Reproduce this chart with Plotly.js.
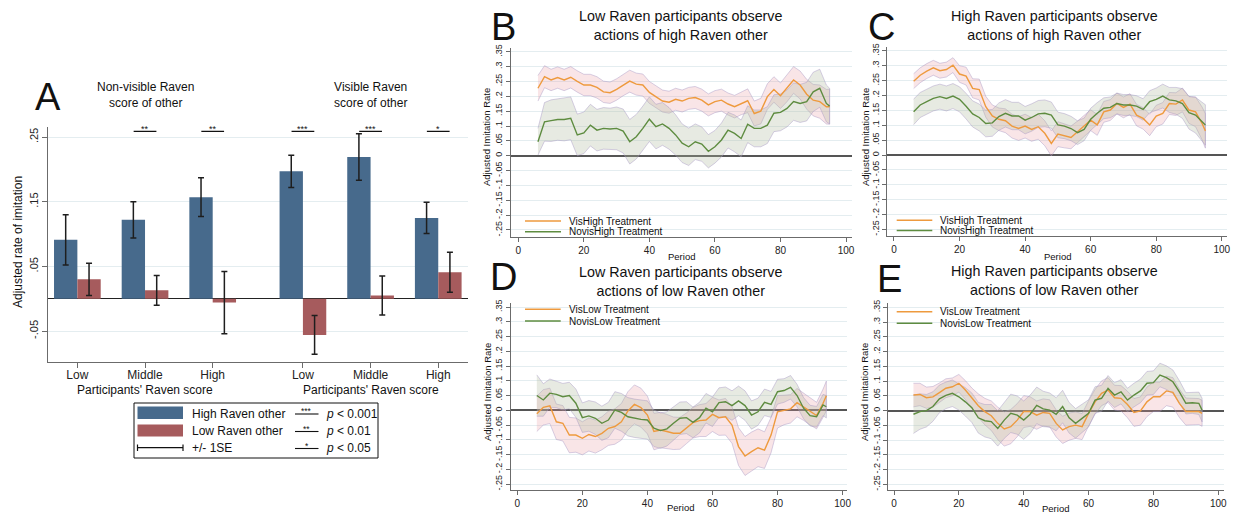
<!DOCTYPE html>
<html><head><meta charset="utf-8">
<script src="https://cdn.plot.ly/plotly-3.0.1.min.js"></script>
<style>html,body{margin:0;padding:0;background:#fff}#chart{width:1241px;height:513px}</style>
</head><body><div id="chart"></div>
<script>
// ---------- Panel A data ----------
const scoreGroups = ["Low","Middle","High","Low","Middle","High"];
const highRavenOther = [0.091,0.122,0.157,0.197,0.219,0.125];
const highRavenSE    = [0.039,0.028,0.030,0.025,0.036,0.024];
const lowRavenOther  = [0.030,0.013,-0.006,-0.056,0.005,0.041];
const lowRavenSE     = [0.025,0.023,0.048,0.030,0.030,0.031];
const sigStars = ["","**","**","***","***","*"];
const groupTitles = ["Non-visible Raven<br>score of other","Visible Raven<br>score of other"];
const groupAxisTitle = "Participants' Raven score";
const barNames = ["High Raven other","Low Raven other","+/- 1SE"];
const sigLegend = [["***","<i>p</i> &lt; 0.001"],["**","<i>p</i> &lt; 0.01"],["*","<i>p</i> &lt; 0.05"]];

// ---------- Panels B-E data ----------
const period = [6,8,10,12,14,16,18,20,22,24,26,28,30,32,34,36,38,40,42,44,46,48,50,52,54,56,58,60,62,64,66,68,70,72,74,76,78,80,82,84,86,88,90,92,94,95];

const B_vis = [0.227,0.266,0.255,0.263,0.255,0.264,0.250,0.238,0.238,0.230, 0.215,0.212,0.223,0.238,0.251,0.241,0.238,0.213,0.199,0.184, 0.180,0.190,0.184,0.193,0.196,0.187,0.171,0.182,0.187,0.174, 0.165,0.176,0.185,0.142,0.150,0.199,0.223,0.202,0.227,0.255, 0.238,0.207,0.187,0.182,0.165,0.165];
const B_vis_ci = [0.043,0.037,0.036,0.036,0.036,0.036,0.036,0.036,0.036,0.036, 0.036,0.036,0.036,0.036,0.037,0.037,0.037,0.037,0.037,0.037, 0.037,0.037,0.037,0.037,0.037,0.037,0.037,0.037,0.037,0.037, 0.038,0.038,0.040,0.042,0.043,0.043,0.043,0.043,0.045,0.045, 0.047,0.050,0.053,0.056,0.058,0.059];
const B_nov = [0.047,0.114,0.118,0.122,0.122,0.126,0.070,0.077,0.103,0.086, 0.092,0.090,0.092,0.083,0.047,0.064,0.092,0.123,0.098,0.107, 0.092,0.070,0.042,0.030,0.047,0.039,0.015,0.030,0.053,0.086, 0.075,0.058,0.106,0.092,0.092,0.103,0.143,0.146,0.159,0.182, 0.176,0.182,0.215,0.227,0.176,0.167];
const B_nov_ci = [0.045,0.065,0.070,0.070,0.072,0.072,0.070,0.070,0.070,0.070, 0.070,0.070,0.072,0.074,0.075,0.075,0.075,0.075,0.075,0.072, 0.070,0.068,0.065,0.063,0.060,0.058,0.056,0.055,0.057,0.060, 0.062,0.062,0.062,0.062,0.062,0.062,0.062,0.062,0.062,0.063, 0.064,0.065,0.066,0.064,0.062,0.060];

const C_vis = [0.248,0.268,0.282,0.293,0.283,0.287,0.302,0.272,0.265,0.224, 0.220,0.162,0.131,0.120,0.115,0.097,0.089,0.097,0.086,0.095, 0.073,0.039,0.070,0.064,0.059,0.078,0.097,0.117,0.101,0.145, 0.151,0.173,0.160,0.171,0.134,0.123,0.101,0.131,0.140,0.173, 0.171,0.185,0.151,0.145,0.106,0.081];
const C_vis_ci = [0.025,0.025,0.025,0.025,0.025,0.025,0.025,0.028,0.030,0.032, 0.035,0.035,0.037,0.038,0.040,0.040,0.040,0.040,0.040,0.042, 0.042,0.042,0.042,0.040,0.038,0.036,0.035,0.035,0.035,0.035, 0.035,0.035,0.035,0.035,0.036,0.036,0.036,0.036,0.036,0.037, 0.038,0.040,0.045,0.050,0.055,0.058];
const C_nov = [0.145,0.168,0.179,0.190,0.196,0.190,0.198,0.187,0.164,0.138, 0.126,0.106,0.108,0.129,0.140,0.131,0.131,0.117,0.126,0.138, 0.140,0.134,0.101,0.097,0.089,0.075,0.086,0.120,0.140,0.157, 0.160,0.173,0.168,0.168,0.164,0.153,0.179,0.187,0.198,0.185, 0.182,0.173,0.142,0.134,0.112,0.101];
const C_nov_ci = [0.043,0.042,0.042,0.042,0.042,0.042,0.042,0.042,0.043,0.044, 0.045,0.045,0.045,0.046,0.046,0.046,0.046,0.046,0.046,0.045, 0.045,0.044,0.043,0.042,0.041,0.040,0.038,0.037,0.036,0.035, 0.035,0.035,0.035,0.035,0.035,0.036,0.037,0.038,0.040,0.042, 0.045,0.050,0.055,0.060,0.065,0.068];

const D_vis = [-0.012,0.010,0.015,-0.039,-0.044,-0.084,-0.084,-0.095,-0.082,-0.089, -0.078,-0.061,-0.055,-0.039,-0.002,0.020,0.009,-0.016,-0.072,-0.067, -0.072,-0.078,-0.078,-0.061,-0.042,-0.035,-0.033,-0.014,-0.025,-0.022, -0.050,-0.123,-0.155,-0.140,-0.127,-0.135,-0.084,-0.005,0.001,0.005, 0.026,0.012,-0.005,-0.018,0.024,0.049];
const D_vis_ci = [0.060,0.060,0.060,0.060,0.060,0.060,0.058,0.056,0.056,0.056, 0.056,0.058,0.060,0.062,0.065,0.066,0.066,0.064,0.062,0.060, 0.058,0.055,0.054,0.052,0.052,0.054,0.056,0.058,0.060,0.062, 0.062,0.064,0.066,0.066,0.064,0.062,0.060,0.055,0.050,0.048, 0.048,0.046,0.045,0.045,0.048,0.050];
const D_nov = [0.050,0.035,0.058,0.054,0.046,0.050,0.024,-0.025,-0.019,-0.027, -0.044,-0.033,0.001,-0.007,-0.022,-0.027,-0.031,-0.033,-0.061,-0.069, -0.063,-0.044,-0.027,-0.025,-0.041,-0.025,0.007,-0.005,0.026,0.029, 0.016,0.032,0.016,-0.016,-0.005,0.027,0.020,0.063,0.067,0.078, 0.050,0.007,-0.018,-0.022,0.018,0.012];
const D_nov_ci = [0.070,0.055,0.048,0.045,0.045,0.045,0.048,0.050,0.052,0.055, 0.058,0.060,0.062,0.064,0.065,0.065,0.065,0.065,0.062,0.060, 0.058,0.056,0.055,0.054,0.052,0.052,0.050,0.050,0.050,0.050, 0.050,0.050,0.050,0.048,0.046,0.045,0.044,0.042,0.040,0.040, 0.038,0.036,0.035,0.035,0.036,0.038];

const E_vis = [0.053,0.055,0.044,0.047,0.061,0.076,0.081,0.093,0.070,0.042, 0.017,-0.003,-0.017,-0.043,-0.062,-0.054,-0.032,-0.003,-0.003,-0.015, -0.006,-0.009,-0.043,-0.065,-0.054,-0.049,-0.054,-0.009,0.030,0.059, 0.070,0.044,0.042,0.021,-0.006,-0.001,0.030,0.047,0.047,0.067, 0.062,0.025,-0.003,-0.003,-0.003,-0.009];
const E_vis_ci = [0.040,0.038,0.036,0.035,0.033,0.032,0.030,0.030,0.032,0.035, 0.040,0.045,0.050,0.055,0.058,0.058,0.056,0.054,0.050,0.048, 0.046,0.046,0.046,0.046,0.046,0.045,0.044,0.043,0.042,0.042, 0.042,0.042,0.043,0.045,0.047,0.048,0.050,0.050,0.050,0.050, 0.050,0.048,0.046,0.045,0.044,0.044];
const E_nov = [-0.012,-0.003,0.000,0.014,0.040,0.052,0.059,0.047,0.030,0.010, -0.024,-0.034,-0.037,-0.060,-0.032,-0.009,-0.015,-0.032,-0.012,0.018, 0.006,0.002,-0.012,0.014,-0.024,-0.043,-0.026,-0.009,0.036,0.042, 0.076,0.053,0.064,0.036,0.053,0.067,0.093,0.095,0.121,0.112, 0.098,0.064,0.025,0.027,0.025,0.002];
const E_nov_ci = [0.065,0.060,0.055,0.050,0.047,0.045,0.045,0.045,0.048,0.050, 0.052,0.055,0.058,0.060,0.062,0.065,0.065,0.065,0.065,0.062, 0.060,0.058,0.056,0.055,0.052,0.050,0.048,0.046,0.045,0.044, 0.043,0.042,0.041,0.040,0.040,0.040,0.040,0.040,0.040,0.040, 0.040,0.038,0.036,0.036,0.038,0.040];

const panelLetters = ["A","B","C","D","E"];
const panelTitles = [
  "Low Raven participants observe<br>actions of high Raven other",
  "High Raven participants observe<br>actions of high Raven other",
  "Low Raven participants observe<br>actions of low Raven other",
  "High Raven participants observe<br>actions of low Raven other"];
const seriesNames = [["VisHigh Treatment","NovisHigh Treatment"],["VisHigh Treatment","NovisHigh Treatment"],
                     ["VisLow Treatment","NovisLow Treatment"],["VisLow Treatment","NovisLow Treatment"]];
const yTickVals = [-0.25,-0.2,-0.15,-0.1,-0.05,0,0.05,0.1,0.15,0.2,0.25,0.3,0.35];
const yTickText = ["-.25","-.2","-.15","-.1","-.05","0",".05",".1",".15",".2",".25",".3",".35"];
const xTickVals = [0,20,40,60,80,100];

// ---------- styles ----------
const FONT = "Liberation Sans, Arial, Helvetica, sans-serif";
const BLUE = "#476a8c", RED = "#a65b5d";
const ORANGE = "#ee9a3e", GREEN = "#5e8c40";
const GRID = "#e4edf0", AXIS = "#6b6b6b";
const W = 1241, H = 513;
const PX = p => p / W, PY = p => 1 - p / H;

// panel A category positions (two groups of three with a gap)
const pos = scoreGroups.map((_, i) => i + 1 + (i >= 3 ? 1/3 : 0));

const traces = [];
traces.push({type:"bar", x:pos, y:highRavenOther, name:barNames[0], marker:{color:BLUE},
  error_y:{type:"data", array:highRavenSE, visible:true, color:"#1e1e1e", thickness:1.5, width:3},
  xaxis:"x", yaxis:"y", showlegend:false, hoverinfo:"y"});
traces.push({type:"bar", x:pos, y:lowRavenOther, name:barNames[1], marker:{color:RED},
  error_y:{type:"data", array:lowRavenSE, visible:true, color:"#1e1e1e", thickness:1.5, width:3},
  xaxis:"x", yaxis:"y", showlegend:false, hoverinfo:"y"});

const panels = [
  {vis:B_vis, visci:B_vis_ci, nov:B_nov, novci:B_nov_ci},
  {vis:C_vis, visci:C_vis_ci, nov:C_nov, novci:C_nov_ci},
  {vis:D_vis, visci:D_vis_ci, nov:D_nov, novci:D_nov_ci},
  {vis:E_vis, visci:E_vis_ci, nov:E_nov, novci:E_nov_ci}];

function bandTrace(k, mean, ci, fill) {
  const up = mean.map((m, i) => m + ci[i]);
  const lo = mean.map((m, i) => m - ci[i]);
  return {type:"scatter", mode:"lines", x: period.concat(period.slice().reverse()),
    y: up.concat(lo.slice().reverse()), fill:"toself", fillcolor: fill,
    line:{color:"rgba(165,150,195,0.55)", width:0.8}, hoverinfo:"skip", showlegend:false,
    xaxis:"x"+k, yaxis:"y"+k};
}
panels.forEach((p, i) => {
  const k = i + 2;
  traces.push(bandTrace(k, p.vis, p.visci, "rgba(232,150,160,0.25)"));
  traces.push(bandTrace(k, p.nov, p.novci, "rgba(175,185,160,0.30)"));
  traces.push({type:"scatter", mode:"lines", x:period, y:p.vis, name:seriesNames[i][0],
    line:{color:ORANGE, width:1.4}, xaxis:"x"+k, yaxis:"y"+k, showlegend:false});
  traces.push({type:"scatter", mode:"lines", x:period, y:p.nov, name:seriesNames[i][1],
    line:{color:GREEN, width:1.4}, xaxis:"x"+k, yaxis:"y"+k, showlegend:false});
});

const layout = {
  width: W, height: H, margin:{l:0,r:0,t:0,b:0}, paper_bgcolor:"#fff", plot_bgcolor:"#fff",
  font:{family:FONT, color:"#222"}, barmode:"group", bargap:0.31, bargroupgap:0, showlegend:false,
  xaxis:{domain:[PX(48), PX(468)], range:[0.566, 6.773], tickmode:"array", tickvals:pos, ticktext:scoreGroups,
    ticks:"outside", ticklen:5, tickcolor:AXIS, showline:true, linecolor:AXIS, linewidth:1,
    ticklabelstandoff:-3,
    showgrid:false, zeroline:false, tickfont:{size:12, color:"#222"}, anchor:"y", fixedrange:true},
  yaxis:{domain:[PY(361.7), PY(126.7)], range:[-0.0974, 0.266], tickmode:"array",
    tickvals:[-0.05,0.05,0.15,0.25], ticktext:["-.05",".05",".15",".25"], tickangle:-90,
    ticks:"outside", ticklen:5, tickcolor:AXIS, showline:true, linecolor:AXIS, linewidth:1,
    showgrid:true, gridcolor:GRID, zeroline:true, zerolinecolor:"#222", zerolinewidth:1.5,
    tickfont:{size:11, color:"#222"}, anchor:"x", fixedrange:true},
  shapes:[], annotations:[]
};

const geo = [
  {x:[510.7,851.7], y:[236.7,47.7], xr:[-2.32,101.74], yr:[-0.2727,0.3636]},
  {x:[887.3,1226.7], y:[236,47], xr:[-2.04,101.5], yr:[-0.2721,0.3628]},
  {x:[510.7,846.7], y:[490,302.7], xr:[-2.03,101.26], yr:[-0.2702,0.3647]},
  {x:[888.3,1224], y:[490,302.7], xr:[-1.76,101.76], yr:[-0.2688,0.366]}];
geo.forEach((g, i) => {
  const k = i + 2;
  layout["xaxis"+k] = {domain:[PX(g.x[0]), PX(g.x[1])], range:g.xr, tickmode:"array", tickvals:xTickVals,
    ticks:"outside", ticklen:4, tickcolor:AXIS, showline:true, linecolor:AXIS, linewidth:1,
    showgrid:false, zeroline:false, tickfont:{size:10, color:"#222"}, anchor:"y"+k, fixedrange:true};
  layout["yaxis"+k] = {domain:[PY(g.y[0]), PY(g.y[1])], range:g.yr, tickmode:"array",
    tickvals:yTickVals, ticktext:yTickText, tickangle:-90,
    ticks:"outside", ticklen:4, tickcolor:AXIS, showline:true, linecolor:AXIS, linewidth:1,
    showgrid:true, gridcolor:GRID, zeroline:true, zerolinecolor:"#555", zerolinewidth:2,
    tickfont:{size:9, color:"#222"}, anchor:"x"+k, fixedrange:true};
});

const A = layout.annotations, S = layout.shapes;
function txt(x, y, text, size, opts) {
  A.push(Object.assign({xref:"paper", yref:"paper", x:PX(x), y:PY(y), text:text, showarrow:false,
    font:{family:FONT, size:size, color:"#111"}, xanchor:"center", yanchor:"middle"}, opts || {}));
}

// Panel A decorations
txt(48, 97, panelLetters[0], 38);
A.push({xref:"x", yref:"paper", x:pos[1], y:PY(95.5), text:groupTitles[0], showarrow:false,
  font:{family:FONT, size:12, color:"#111"}, xanchor:"center", yanchor:"middle"});
A.push({xref:"x", yref:"paper", x:pos[4], y:PY(94.5), text:groupTitles[1], showarrow:false,
  font:{family:FONT, size:12, color:"#111"}, xanchor:"center", yanchor:"middle"});
[pos[1], pos[4]].forEach(xv => A.push({xref:"x", yref:"paper", x:xv, y:PY(390), text:groupAxisTitle,
  showarrow:false, font:{family:FONT, size:12, color:"#111"}, xanchor:"center", yanchor:"middle"}));
txt(18, 242, "Adjusted rate of imitation", 12, {textangle:-90});
const sigY = 0.2587;
sigStars.forEach((s, i) => {
  if (!s) return;
  S.push({type:"line", xref:"x", yref:"y", x0:pos[i]-0.168, x1:pos[i]+0.168, y0:sigY, y1:sigY,
    line:{color:"#111", width:1.2}});
  A.push({xref:"x", yref:"y", x:pos[i], y:sigY, text:s, showarrow:false, yanchor:"middle", yshift:2,
    font:{family:FONT, size:9, color:"#111"}});
});
// Panel A legend box
S.push({type:"rect", xref:"paper", yref:"paper", x0:PX(134), x1:PX(378), y0:PY(458), y1:PY(403),
  line:{color:"#111", width:1}, fillcolor:"rgba(0,0,0,0)"});
S.push({type:"rect", xref:"paper", yref:"paper", x0:PX(137.5), x1:PX(183), y0:PY(419), y1:PY(406.5),
  line:{width:0}, fillcolor:BLUE});
S.push({type:"rect", xref:"paper", yref:"paper", x0:PX(137.5), x1:PX(183), y0:PY(436.5), y1:PY(424.5),
  line:{width:0}, fillcolor:RED});
S.push({type:"line", xref:"paper", yref:"paper", x0:PX(137.5), x1:PX(183), y0:PY(447.7), y1:PY(447.7), line:{color:"#111", width:1.2}});
S.push({type:"line", xref:"paper", yref:"paper", x0:PX(137.5), x1:PX(137.5), y0:PY(444.5), y1:PY(451), line:{color:"#111", width:1.2}});
S.push({type:"line", xref:"paper", yref:"paper", x0:PX(183), x1:PX(183), y0:PY(444.5), y1:PY(451), line:{color:"#111", width:1.2}});
[413.5, 431, 448].forEach((yy, j) => txt(190, yy, barNames[j], 12, {xanchor:"left"}));
[413.5, 431, 448].forEach((yy, j) => {
  S.push({type:"line", xref:"paper", yref:"paper", x0:PX(295), x1:PX(318.5), y0:PY(yy+0.5), y1:PY(yy+0.5), line:{color:"#111", width:1.1}});
  txt(306.7, yy-2.5, sigLegend[j][0], 8.5);
  txt(324, yy, sigLegend[j][1], 12, {xanchor:"left"});
});

// Panels B-E decorations
const letterPos = [[503,27],[882,27],[503,277],[889,279]];
const titlePos = [[680,25.5],[1054,25.5],[680,281],[1054,280.5]];
const ytitlePos = [[486,137],[865,137],[487,392],[864,392]];
const periodPos = [[681,256],[1057,256],[680,507.5],[1055,508]];
const legPos = [[525,561,566.7,221,231.7],[896.7,932.3,937.7,220.3,230.5],[525,560.7,566.7,309.3,321],[896.7,932.3,938.3,311.7,323.3]];
for (let i = 0; i < 4; i++) {
  txt(letterPos[i][0], letterPos[i][1], panelLetters[i+1], 38);
  txt(titlePos[i][0], titlePos[i][1], panelTitles[i], 14.3);
  txt(ytitlePos[i][0], ytitlePos[i][1], "Adjusted Imitation Rate", 9.5, {textangle:-90});
  txt(periodPos[i][0], periodPos[i][1], "Period", 9.5);
  const L = legPos[i];
  [ORANGE, GREEN].forEach((c, j) => {
    const yy = L[3 + j];
    S.push({type:"line", xref:"paper", yref:"paper", x0:PX(L[0]), x1:PX(L[1]), y0:PY(yy), y1:PY(yy), line:{color:c, width:1.4}});
    txt(L[2], yy, seriesNames[i][j], 10, {xanchor:"left"});
  });
}

Plotly.newPlot("chart", traces, layout, {staticPlot:true, displayModeBar:false});
</script></body></html>
